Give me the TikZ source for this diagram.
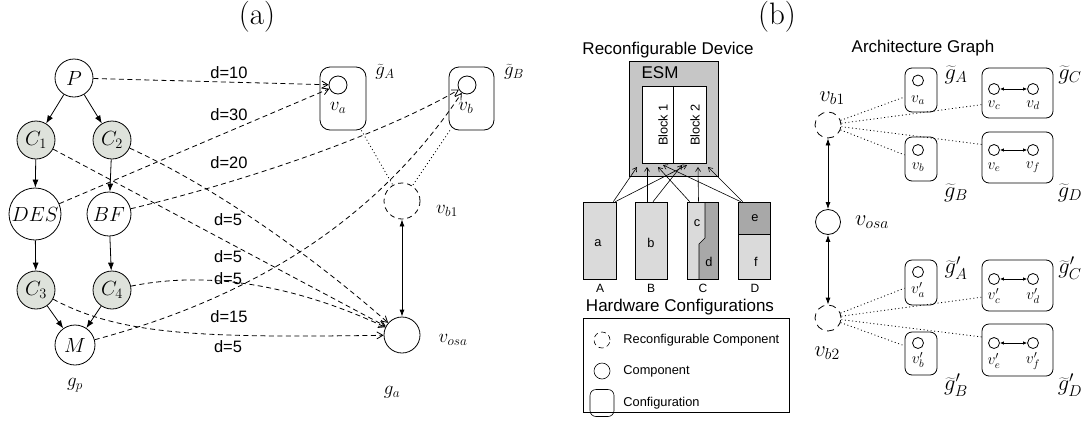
\RequirePackage{fix-cm}
\documentclass[tikz,border=0pt]{standalone}
\usepackage{fontspec}
\setsansfont{Liberation Sans}
\usetikzlibrary{arrows.meta}
\definecolor{cgray}{RGB}{222,226,219}
\definecolor{esmgray}{RGB}{198,198,198}
\definecolor{cfglight}{RGB}{218,218,218}
\definecolor{cfgdark}{RGB}{168,168,168}
\newcommand\myfs[1]{\fontsize{#1}{#1}\selectfont}
\begin{document}
\begin{tikzpicture}[x=1pt,y=-1pt,line width=0.8pt,
  gnode/.style={circle,draw,minimum size=38pt,inner sep=0pt,font=\myfs{20.5}},
  cnode/.style={gnode,fill=cgray},
  lab/.style={font=\myfs{19},inner sep=0pt},
  rlab/.style={font=\myfs{22.5},inner sep=0pt},
  ilab/.style={font=\myfs{15.5},inner sep=0pt},
  dlab/.style={font=\sffamily\myfs{16.5},inner sep=0pt},
  sfs/.style={font=\sffamily\myfs{12.8},inner sep=0pt},
  title/.style={font=\myfs{31},inner sep=0pt},
  treearr/.style={-{Latex[length=8pt,width=6pt]}},
  dasharr/.style={dash pattern=on 5pt off 3.5pt,-{Straight Barb[length=6pt,width=7pt]}},
  dotline/.style={dash pattern=on 1pt off 2.6pt},
  cfgbox/.style={draw,rounded corners=10pt,inner sep=0pt},
  rbox/.style={draw,rounded corners=7pt,inner sep=0pt},
  smallc/.style={circle,draw,inner sep=0pt,minimum size=18pt},
  tinyc/.style={circle,draw,inner sep=0pt,minimum size=11pt},
  dbl/.style={{Latex[length=7pt,width=5pt]}-{Latex[length=7pt,width=5pt]}},
  sdbl/.style={{Latex[length=4pt,width=3.5pt]}-{Latex[length=4pt,width=3.5pt]}},
  esmarr/.style={line width=0.6pt,-{Straight Barb[length=4pt,width=5pt]}},
  hwbox/.style={draw,line width=0.6pt,inner sep=0pt,minimum width=32pt,minimum height=77pt}
]
\useasboundingbox (0,0) rectangle (1091,426);

% ---------------- (a) ----------------
\node[title] (ta) at (257,17) {(a)};
\node[gnode] (P) at (74,78) {$P$};
\node[cnode] (C1) at (36,140) {$C_1$};
\node[cnode] (C2) at (112,140) {$C_2$};
\node[gnode,minimum size=52pt] (DES) at (35,214) {$DES$};
\node[gnode,minimum size=44pt] (BF) at (109,214) {$BF$};
\node[cnode] (C3) at (36,290) {$C_3$};
\node[cnode] (C4) at (112,290) {$C_4$};
\node[gnode,minimum size=40pt] (M) at (75,345) {$M$};
\node[lab] (gp) at (75,385) {$g_p$};

\draw[treearr] (P) -- (C1);
\draw[treearr] (P) -- (C2);
\draw[treearr] (C1) -- (DES);
\draw[treearr] (C2) -- (BF);
\draw[treearr] (DES) -- (C3);
\draw[treearr] (BF) -- (C4);
\draw[treearr] (C3) -- (M);
\draw[treearr] (C4) -- (M);

\node[cfgbox,minimum width=46pt,minimum height=63pt] (gA) at (343,98.5) {};
\node[smallc] (va) at (338,85) {};
\node[lab] (lva) at (338,108) {$v_a$};
\node[lab] (lgA) at (385,72) {$\widetilde{g}_A$};
\node[cfgbox,minimum width=45pt,minimum height=63pt] (gB) at (471.5,98.5) {};
\node[smallc] (vb) at (467,85) {};
\node[lab] (lvb) at (466,108) {$v_b$};
\node[lab] (lgB) at (514,72) {$\widetilde{g}_B$};
\node[circle,draw,dash pattern=on 5pt off 4pt,minimum size=36pt,inner sep=0pt] (vb1) at (402,201) {};
\node[lab] (lvb1) at (447,211) {$v_{b1}$};
\node[circle,draw,minimum size=36pt,inner sep=0pt] (vosa) at (402,335) {};
\node[lab] (lvosa) at (453,340) {$v_{osa}$};
\node[lab] (lga) at (392,392) {$g_a$};

\draw[dotline] (gA) -- (vb1);
\draw[dotline] (gB) -- (vb1);
\draw[dbl] (vb1) -- (vosa);

\draw[dasharr] (P) -- (va);
\draw[dasharr] (DES) -- (va);
\draw[dasharr] (BF) .. controls (250,180) and (380,135) .. (vb);
\draw[dasharr] (C1) -- (vosa);
\draw[dasharr] (C2) .. controls (221,190) and (319,262) .. (vosa);
\draw[dasharr] (C4) .. controls (220,268) and (310,292) .. (vosa);
\draw[dasharr] (C3) .. controls (120,335) and (200,338) .. (vosa);
\draw[dasharr] (M) .. controls (280,290) and (390,200) .. (vb);

\node[dlab] (d1) at (229,73) {d=10};
\node[dlab] (d2) at (229,115) {d=30};
\node[dlab] (d3) at (229,163) {d=20};
\node[dlab] (d4) at (228,220) {d=5};
\node[dlab] (d5) at (228,257) {d=5};
\node[dlab] (d6) at (228,279) {d=5};
\node[dlab] (d7) at (229,317) {d=15};
\node[dlab] (d8) at (228,347) {d=5};

% ---------------- (b) ----------------
\node[title] (tb) at (777,17) {(b)};
\node[font=\sffamily\myfs{17},inner sep=0pt] (trd) at (668,50) {Reconfigurable Device};
\node[draw,fill=esmgray,line width=0.6pt,minimum width=89pt,minimum height=115pt,inner sep=0pt] (esm) at (673.5,118.5) {};
\node[font=\sffamily\myfs{17},inner sep=0pt] (esmt) at (660,73) {ESM};
\node[draw,fill=white,line width=0.6pt,minimum width=31.5pt,minimum height=77pt,inner sep=0pt] (blk1) at (657.75,124.5) {};
\node[draw,fill=white,line width=0.6pt,minimum width=32.5pt,minimum height=77pt,inner sep=0pt] (blk2) at (689.75,124.5) {};
\node[sfs,rotate=90] (b1t) at (663,125) {Block 1};
\node[sfs,rotate=90] (b2t) at (695,125) {Block 2};

\node[hwbox,fill=cfglight,minimum width=33pt] (A) at (599.5,240.5) {};
\node[hwbox,fill=cfglight] (B) at (651,240.5) {};
\fill[cfglight] (687,202) rectangle (718,279);
\fill[cfgdark] (705,202) -- (718,202) -- (718,279) -- (699,279) -- (699,244) -- (705,238) -- cycle;
\draw[line width=0.6pt] (705,202) -- (705,238) -- (699,244) -- (699,279);
\node[hwbox,minimum width=31pt] (C) at (702.5,240.5) {};
\fill[cfglight] (738,234) rectangle (770,279);
\fill[cfgdark] (738,202) rectangle (770,234);
\draw[line width=0.6pt] (738,234) -- (770,234);
\node[hwbox] (D) at (754,240.5) {};

\node[sfs] (ta1) at (598,243) {a};
\node[sfs] (tb1) at (651,243) {b};
\node[sfs] (tc1) at (697,223) {c};
\node[sfs] (td1) at (709,262) {d};
\node[sfs] (te1) at (755,218) {e};
\node[sfs] (tf1) at (756,262) {f};
\node[font=\sffamily\myfs{12},inner sep=0pt] (lA) at (600,288) {A};
\node[font=\sffamily\myfs{12},inner sep=0pt] (lB) at (651,288) {B};
\node[font=\sffamily\myfs{12},inner sep=0pt] (lC) at (703,288) {C};
\node[font=\sffamily\myfs{12},inner sep=0pt] (lD) at (755,288) {D};

\coordinate (e1) at (637,167);
\coordinate (e2) at (687,165);
\coordinate (e3) at (647,167);
\coordinate (e4) at (682,165);
\coordinate (e5) at (658,167);
\coordinate (e6) at (698,167);
\coordinate (e7) at (663,165);
\coordinate (e8) at (708,167);
\draw[esmarr] ([xshift=-3pt]A.north east) -- (e1);
\draw[esmarr] ([xshift=-1pt]A.north east) -- (e2);
\draw[esmarr] ([xshift=-4pt]B.north) -- (e3);
\draw[esmarr] ([xshift=2pt]B.north) -- (e4);
\draw[esmarr] ([xshift=3pt]C.north west) -- (e5);
\draw[esmarr] ([xshift=-4pt]C.north) -- (e6);
\draw[esmarr] ([xshift=3pt]D.north west) -- (e7);
\draw[esmarr] ([xshift=5pt]D.north west) -- (e8);

\node[font=\sffamily\myfs{17},inner sep=0pt] (thw) at (680,307) {Hardware Configurations};
\node[draw,line width=0.6pt,minimum width=206pt,minimum height=94pt,inner sep=0pt] (leg) at (686,365) {};
\node[circle,draw,line width=0.6pt,dash pattern=on 5pt off 3.5pt,minimum size=16pt,inner sep=0pt] (lg1) at (602,340) {};
\node[circle,draw,line width=0.6pt,minimum size=16pt,inner sep=0pt] (lg2) at (602,371) {};
\node[draw,line width=0.6pt,rounded corners=6pt,minimum width=24pt,minimum height=27pt,inner sep=0pt] (lg3) at (602,403) {};
\node[sfs,anchor=west] (lt1) at (623,340) {Reconfigurable Component};
\node[sfs,anchor=west] (lt2) at (623,371) {Component};
\node[sfs,anchor=west] (lt3) at (623,403) {Configuration};

% ---------- Architecture graph ----------
\node[font=\sffamily\myfs{17},inner sep=0pt] (tag) at (923,48) {Architecture Graph};
\node[circle,draw,dash pattern=on 7pt off 5pt,minimum size=26pt,inner sep=0pt] (rvb1) at (828,125) {};
\node[rlab] (lrvb1) at (832,98) {$v_{b1}$};
\node[circle,draw,minimum size=25pt,inner sep=0pt] (rvosa) at (828,222) {};
\node[rlab] (lrvosa) at (872,222) {$v_{osa}$};
\node[circle,draw,dash pattern=on 7pt off 5pt,minimum size=26pt,inner sep=0pt] (rvb2) at (828,318) {};
\node[rlab] (lrvb2) at (827,353) {$v_{b2}$};
\draw[dbl] (rvb1) -- (rvosa);
\draw[dbl] (rvosa) -- (rvb2);

% upper configurations
\node[rbox,minimum width=32pt,minimum height=44pt] (rgA) at (921,90) {};
\node[tinyc] (rva) at (918,80.5) {};
\node[ilab] (lrva) at (918,100) {$v_a$};
\node[rlab] (lrgA) at (956,75) {$\widetilde{g}_A$};
\node[rbox,minimum width=71pt,minimum height=50pt] (rgC) at (1017.5,93) {};
\node[tinyc] (rvc) at (994,89) {};
\node[tinyc] (rvd) at (1033,89) {};
\draw[sdbl] (rvc) -- (rvd);
\node[ilab] (lrvc) at (994,105) {$v_c$};
\node[ilab] (lrvd) at (1033,105) {$v_d$};
\node[rlab] (lrgC) at (1070,75) {$\widetilde{g}_C$};
\node[rbox,minimum width=32pt,minimum height=44pt] (rgB) at (921,159) {};
\node[tinyc] (rvb) at (918,150) {};
\node[ilab] (lrvb) at (918,167) {$v_b$};
\node[rlab] (lrgB) at (956,193) {$\widetilde{g}_B$};
\node[rbox,minimum width=71pt,minimum height=51pt] (rgD) at (1017.5,157.5) {};
\node[tinyc] (rve) at (994,150) {};
\node[tinyc] (rvf) at (1033,150) {};
\draw[sdbl] (rve) -- (rvf);
\node[ilab] (lrve) at (994,167) {$v_e$};
\node[ilab] (lrvf) at (1033,167) {$v_f$};
\node[rlab] (lrgD) at (1070,193) {$\widetilde{g}_D$};
\draw[dotline] (rvb1) -- (rgA.203.6);
\draw[dotline] (rvb1) -- (rgC.198.7);
\draw[dotline] (rvb1) -- (rgD.160.6);
\draw[dotline] (rvb1) -- (rgB.166);

% lower configurations
\node[rbox,minimum width=32pt,minimum height=45pt] (qgA) at (921,282.5) {};
\node[tinyc] (qva) at (918,272) {};
\node[ilab] (lqva) at (918,290) {$v'_a$};
\node[rlab] (lqgA) at (956,268) {$\widetilde{g}'_A$};
\node[rbox,minimum width=71pt,minimum height=51pt] (qgC) at (1017.5,285.5) {};
\node[tinyc] (qvc) at (994,279) {};
\node[tinyc] (qvd) at (1033,279) {};
\draw[sdbl] (qvc) -- (qvd);
\node[ilab] (lqvc) at (994,296) {$v'_c$};
\node[ilab] (lqvd) at (1033,296) {$v'_d$};
\node[rlab] (lqgC) at (1070,268) {$\widetilde{g}'_C$};
\node[rbox,minimum width=32pt,minimum height=43pt] (qgB) at (921,353.5) {};
\node[tinyc] (qvb) at (918,343) {};
\node[ilab] (lqvb) at (918,360) {$v'_b$};
\node[rlab] (lqgB) at (956,385) {$\widetilde{g}'_B$};
\node[rbox,minimum width=71pt,minimum height=52pt] (qgD) at (1017.5,350) {};
\node[tinyc] (qve) at (994,343) {};
\node[tinyc] (qvf) at (1033,343) {};
\draw[sdbl] (qve) -- (qvf);
\node[ilab] (lqve) at (994,361) {$v'_e$};
\node[ilab] (lqvf) at (1033,361) {$v'_f$};
\node[rlab] (lqgD) at (1070,385) {$\widetilde{g}'_D$};
\draw[dotline] (rvb2) -- (qgA.199);
\draw[dotline] (rvb2) -- (qgC.198);
\draw[dotline] (rvb2) -- (qgD.160);
\draw[dotline] (rvb2) -- (qgB.155);
\end{tikzpicture}
\end{document}
